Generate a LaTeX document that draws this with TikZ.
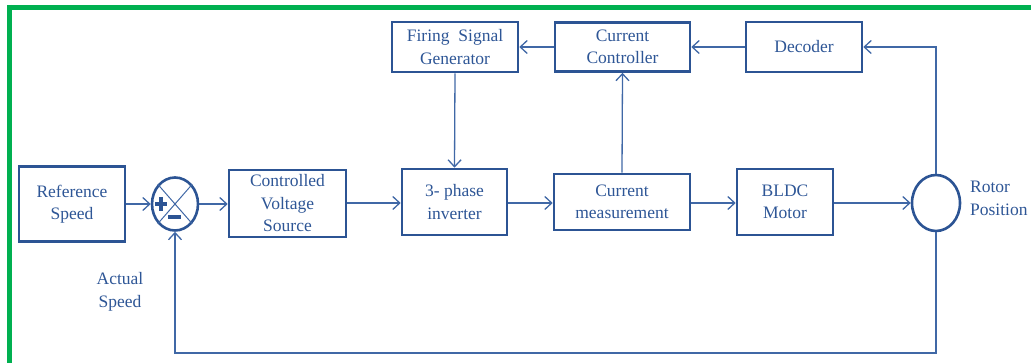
\documentclass[tikz,border=0pt]{standalone}
\usepackage{fontspec}
\setmainfont{Liberation Serif}
\usetikzlibrary{shapes.geometric,arrows.meta}
\definecolor{framegreen}{RGB}{0,176,80}
\definecolor{boxblue}{RGB}{44,84,148}
\definecolor{lineblue}{RGB}{64,104,166}
\definecolor{textblue}{RGB}{46,86,150}
\begin{document}
\begin{tikzpicture}[x=1pt,y=-1pt,
  blk/.style={draw=boxblue,line width=2.6pt,rectangle,align=center,inner sep=0pt,
    text=textblue,font=\fontsize{17.5}{22.5}\selectfont},
  lbl/.style={align=center,text=textblue,font=\fontsize{17.5}{23}\selectfont,inner sep=0pt},
  circ/.style={draw=boxblue,line width=2.6pt,ellipse,inner sep=0pt},
  conn/.style={draw=lineblue,line width=1.3pt},
  arr/.style={conn,-{Straight Barb[length=7pt,width=13pt,line width=1.3pt]}}
]
\useasboundingbox (0,0) rectangle (1031,363);
% green frame
\draw[framegreen,line width=5pt] (7,7.5) -- (1031,7.5);
\draw[framegreen,line width=5pt] (9.5,5) -- (9.5,363);

% main row
\node[blk,minimum width=106pt,minimum height=75pt] (ref) at (72,204) {Reference\\Speed};
\node[circ,minimum width=46pt,minimum height=53pt] (sum) at (175,204) {};
\node[blk,minimum width=117pt,minimum height=67pt] (cvs) at (287.5,203.5) {Controlled\\Voltage\\Source};
\node[blk,minimum width=105pt,minimum height=66pt] (inv) at (454.5,202) {3- phase\\inverter};
\node[blk,minimum width=136pt,minimum height=56pt] (cm) at (622,202) {Current\\measurement};
\node[blk,minimum width=96pt,minimum height=66pt] (bldc) at (785,202) {BLDC\\Motor};
\node[circ,minimum width=48pt,minimum height=56pt] (rotor) at (936,203) {};

% top row
\node[blk,minimum width=126pt,minimum height=50pt] (fsg) at (455,47) {Firing~ Signal\\Generator};
\node[blk,minimum width=135pt,minimum height=49pt] (cc) at (622.5,47) {Current\\Controller};
\node[blk,minimum width=116pt,minimum height=50pt] (dec) at (804,47) {Decoder};

% labels
\node[lbl] (act) at (120,292) {Actual\\Speed};
\node[lbl,align=left,anchor=west] (rp) at (970,198) {Rotor\\Position};

% summing junction marks
\draw[lineblue,line width=1pt] (sum.north west) -- (sum.south east);
\draw[lineblue,line width=1pt] (sum.north east) -- (sum.south west);
\draw[boxblue,line width=4pt] (155,204) -- (167,204);
\draw[boxblue,line width=4pt] (161,197) -- (161,211);
\draw[boxblue,line width=3.5pt] (168,217) -- (181,217);

% connectors
\draw[arr] (ref.east |- sum.west) -- (sum.west);
\draw[arr] (sum.east) -- (cvs.west |- sum.east);
\draw[arr] (cvs.east |- 0,203) -- (inv.west |- 0,203);
\draw[arr] (inv.east |- 0,203) -- (cm.west |- 0,203);
\draw[arr] (cm.east |- 0,203) -- (bldc.west |- 0,203);
\draw[arr] (bldc.east |- rotor.west) -- (rotor.west);
\draw[arr] (rotor.north) |- (dec.east);
\draw[arr] (dec.west) -- (cc.east);
\draw[arr] (cc.west) -- (fsg.east);
\draw[arr] (fsg.south) -- (inv.north);
\draw[arr] (cm.north) -- (cc.south);
\coordinate (fbr) at (936,353);
\coordinate (fbl) at (175,353);
\draw[arr] (rotor.south) -- (fbr) -- (fbl) -- (sum.south);
\end{tikzpicture}
\end{document}
